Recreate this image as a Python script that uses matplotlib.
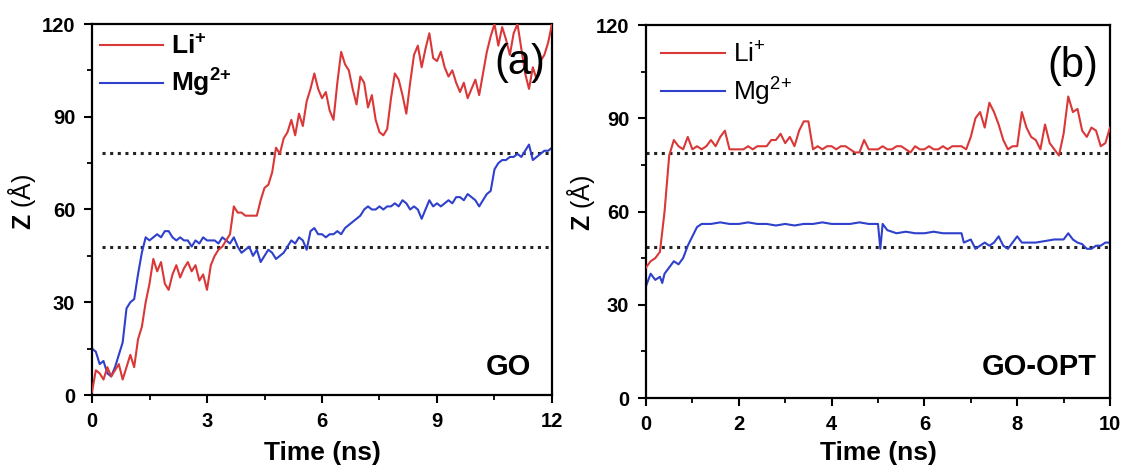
import numpy as np
import matplotlib
matplotlib.use("Agg")
import matplotlib.pyplot as plt
from matplotlib.ticker import MultipleLocator

plt.rcParams['font.family'] = ['Liberation Sans', 'DejaVu Sans']
plt.rcParams['mathtext.fontset'] = 'custom'
plt.rcParams['mathtext.rm'] = 'Liberation Sans'
plt.rcParams['mathtext.bf'] = 'Liberation Sans:bold'
plt.rcParams['mathtext.it'] = 'Liberation Sans:italic'

# ---------------- data ----------------
# Panel (a): GO, 0-12 ns, sampled every 0.1 ns
time_a = np.round(np.arange(0, 12.0001, 0.1), 2)
li_a = [1, 8, 7, 5, 9, 6, 8, 10, 5, 9,
        13, 9, 18, 22, 30, 36, 44, 40, 43, 36,
        34, 39, 42, 38, 41, 43, 40, 42, 37, 39,
        34, 42, 45, 47, 48, 50, 52, 61, 59, 59,
        58, 58, 58, 58, 63, 67, 68, 72, 80, 78,
        83, 85, 89, 84, 91, 87, 95, 99, 104, 99,
        96, 98, 92, 89, 101, 111, 107, 105, 99, 94,
        103, 101, 93, 97, 89, 85, 84, 86, 96, 104,
        102, 97, 91, 101, 110, 113, 106, 112, 117, 109,
        108, 111, 106, 103, 105, 101, 98, 101, 96, 99,
        102, 97, 104, 111, 116, 120, 113, 119, 115, 110,
        117, 120, 112, 104, 99, 106, 102, 108, 110, 114,
        120]
mg_a = [15, 14, 10, 11, 7, 6, 9, 13, 17, 28,
        30, 31, 39, 46, 51, 50, 51, 52, 51, 53,
        53, 51, 50, 51, 50, 50, 48, 50, 49, 51,
        50, 50, 50, 49, 51, 50, 49, 51, 48, 46,
        47, 48, 45, 47, 43, 45, 47, 46, 44, 45,
        46, 48, 50, 49, 51, 50, 47, 53, 54, 52,
        52, 51, 52, 52, 53, 52, 54, 55, 56, 57,
        58, 60, 61, 60, 60, 61, 60, 61, 61, 62,
        61, 63, 62, 60, 61, 60, 57, 60, 63, 61,
        62, 61, 62, 63, 62, 64, 64, 63, 65, 64,
        63, 61, 63, 65, 66, 73, 75, 76, 76, 77,
        77, 78, 77, 79, 81, 76, 77, 78, 79, 79,
        80]

# Panel (b): GO-OPT, 0-10 ns
time_b_li = np.round(np.arange(0, 10.0001, 0.1), 2)
li_b = [42, 44, 45, 47, 60, 78, 83, 81, 80, 84,
        80, 81, 80, 81, 83, 81, 84, 86, 80, 80,
        80, 80, 81, 80, 81, 81, 81, 83, 83, 85,
        82, 84, 81, 86, 89, 89, 80, 81, 80, 81,
        81, 80, 81, 81, 80, 79, 79, 83, 80, 80,
        80, 81, 80, 80, 81, 81, 80, 79, 81, 80,
        80, 81, 80, 80, 81, 80, 81, 81, 81, 80,
        84, 90, 92, 87, 95, 92, 88, 83, 80, 81,
        81, 92, 87, 84, 83, 80, 88, 82, 80, 78,
        85, 97, 92, 93, 86, 84, 87, 86, 81, 82,
        87]
time_b_mg = [0.0, 0.1, 0.2, 0.3, 0.35, 0.4, 0.5, 0.6, 0.7, 0.8,
             0.9, 1.0, 1.1, 1.2, 1.4, 1.6, 1.8, 2.0, 2.2, 2.4,
             2.6, 2.8, 3.0, 3.2, 3.4, 3.6, 3.8, 4.0, 4.2, 4.4,
             4.6, 4.8, 5.0, 5.05, 5.1, 5.2, 5.4, 5.6, 5.8, 6.0,
             6.2, 6.4, 6.6, 6.8, 6.85, 7.0, 7.1, 7.2, 7.3, 7.4,
             7.5, 7.6, 7.7, 7.8, 7.9, 8.0, 8.1, 8.2, 8.4, 8.6,
             8.8, 9.0, 9.1, 9.2, 9.3, 9.4, 9.5, 9.6, 9.7, 9.8,
             9.9, 10.0]
mg_b = [36, 40, 38, 39, 37, 40, 42, 44, 43, 45,
        49, 52, 55, 56, 56, 56.5, 56, 56, 56.5, 56,
        56, 55.5, 56, 55.5, 56, 56, 56.5, 56, 56, 56,
        56.5, 56, 56, 48, 56, 54, 53, 53.5, 53, 53,
        53.5, 53, 53, 53, 50, 51, 48, 49, 50, 49,
        50, 52, 49, 48, 50, 52, 50, 50, 50, 50.5,
        51, 51, 53, 51, 50, 49.5, 48, 48, 49, 49,
        50, 50]

ref_lines_a = [78.3, 48.0]
ref_lines_b = [78.8, 48.6]

panel_labels = ["(a)", "(b)"]
panel_names = ["GO", "GO-OPT"]
xlims = [12, 10]
xmajor = [3, 2]
legend_labels_a = [r"$\mathbf{Li^{{+}}}$", r"$\mathbf{Mg^{2{+}}}$"]
legend_labels_b = [r"$\mathrm{Li^{{+}}}$", r"$\mathrm{Mg^{2{+}}}$"]

RED = '#DA3838'
BLUE = '#2E40CC'

W, H = 1124, 465
fig = plt.figure(figsize=(W / 100, H / 100), dpi=100)

def px_axes(l, t, r, b):
    return fig.add_axes([l / W, (H - b) / H, (r - l) / W, (b - t) / H])

ax_a = px_axes(92, 24, 552, 395)
ax_b = px_axes(646, 25, 1110, 398)

def style(ax, xmax, xmaj, ylab_x, ylab_y, xpad):
    ax.set_xlim(0, xmax)
    ax.set_ylim(0, 120)
    ax.xaxis.set_major_locator(MultipleLocator(xmaj))
    ax.xaxis.set_minor_locator(MultipleLocator(xmaj / 2))
    ax.yaxis.set_major_locator(MultipleLocator(30))
    ax.yaxis.set_minor_locator(MultipleLocator(15))
    for s in ax.spines.values():
        s.set_linewidth(1.6)
    ax.tick_params(which='major', direction='out', length=6, width=1.5,
                   labelsize=14.5, pad=6, top=False, right=False)
    ax.tick_params(which='minor', direction='out', length=3.5, width=1.3,
                   top=False, right=False)
    for lab in ax.get_xticklabels() + ax.get_yticklabels():
        lab.set_fontweight('bold')
    ax.set_xlabel("Time (ns)", fontsize=19, fontweight='bold', labelpad=xpad)
    ax.set_ylabel(r"$\mathbf{Z}$ (Å)", fontsize=18)
    ax.yaxis.set_label_coords(ylab_x, ylab_y)

# panel (a)
for y in ref_lines_a:
    ax_a.hlines(y, 0.25, 12, colors='#222222', linestyles=(0, (1, 1.5)), linewidth=2.2, zorder=1)
ax_a.plot(time_a, li_a, color=RED, lw=1.5, label=legend_labels_a[0], zorder=3)
ax_a.plot(time_a, mg_a, color=BLUE, lw=1.5, label=legend_labels_a[1], zorder=2)
style(ax_a, xlims[0], xmajor[0], -0.117, 0.52, 7.5)
ax_a.legend(loc='upper left', bbox_to_anchor=(0.005, 0.985), frameon=False,
            fontsize=19, handlelength=2.4, handletextpad=0.3, labelspacing=0.3,
            borderpad=0.2, borderaxespad=0)
ax_a.text(0.985, 0.895, panel_labels[0], transform=ax_a.transAxes, fontsize=30,
          ha='right', va='center')
ax_a.text(0.955, 0.075, panel_names[0], transform=ax_a.transAxes, fontsize=21,
          fontweight='bold', ha='right', va='center')

# panel (b)
for y in ref_lines_b:
    ax_b.hlines(y, 0, 10, colors='#222222', linestyles=(0, (1, 1.5)), linewidth=2.2, zorder=1)
ax_b.plot(time_b_li, li_b, color=RED, lw=1.5, label=legend_labels_b[0], zorder=3)
ax_b.plot(time_b_mg, mg_b, color=BLUE, lw=1.5, label=legend_labels_b[1], zorder=2)
style(ax_b, xlims[1], xmajor[1], -0.106, 0.523, 5)
ax_b.legend(loc='upper left', bbox_to_anchor=(0.022, 0.968), frameon=False,
            fontsize=19, handlelength=2.4, handletextpad=0.3, labelspacing=0.3,
            borderpad=0.2, borderaxespad=0)
ax_b.text(0.975, 0.89, panel_labels[1], transform=ax_b.transAxes, fontsize=30,
          ha='right', va='center')
ax_b.text(0.972, 0.083, panel_names[1], transform=ax_b.transAxes, fontsize=21,
          fontweight='bold', ha='right', va='center')

fig.savefig("out.png", dpi=100)
